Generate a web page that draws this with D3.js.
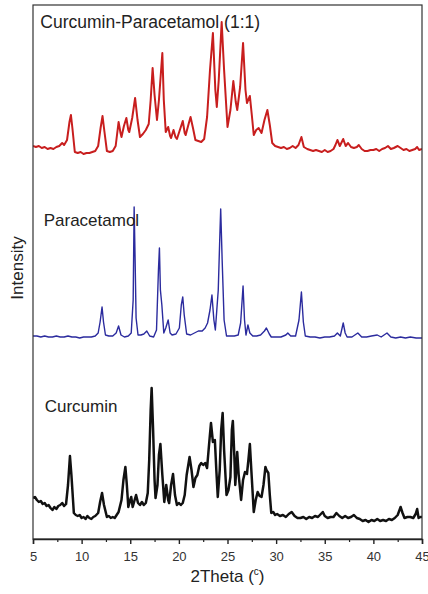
<!DOCTYPE html>
<html><head><meta charset="utf-8">
<script src="https://cdn.jsdelivr.net/npm/d3@7"></script>
<style>
html,body{margin:0;padding:0;background:#fff;}
svg{display:block;font-family:"Liberation Sans",Arial,sans-serif;}
</style></head>
<body><svg id="chart" width="428" height="594"></svg>
<script>
// 2Theta (deg), intensity (a.u., stacked patterns)
const coCrystal = [[5.0,393],[5.3,392],[5.6,393],[5.9,391],[6.2,392],[6.5,390],[6.8,391],[7.1,390],[7.4,392],[7.7,393],[8.0,396],[8.2,394],[8.5,399],[8.75,417],[8.9,424],[9.05,411],[9.3,387],[9.6,386],[9.9,387],[10.2,385],[10.5,386],[10.8,386],[11.1,387],[11.4,388],[11.7,393],[11.95,411],[12.15,423],[12.35,407],[12.6,388],[12.9,387],[13.2,388],[13.5,393],[13.8,417],[14.0,406],[14.1,402],[14.35,413],[14.6,421],[14.8,409],[14.9,407],[15.2,421],[15.5,441],[15.75,419],[16.0,402],[16.3,405],[16.6,409],[16.9,415],[17.1,439],[17.3,471],[17.5,444],[17.75,419],[17.95,439],[18.3,486],[18.45,439],[18.65,407],[18.9,412],[19.1,403],[19.2,401],[19.45,409],[19.65,402],[19.8,400],[20.1,409],[20.4,418],[20.6,406],[20.7,404],[21.0,415],[21.2,422],[21.45,411],[21.7,399],[22.0,398],[22.3,397],[22.6,400],[22.9,422],[23.2,469],[23.5,506],[23.75,449],[23.9,432],[24.1,459],[24.4,517],[24.65,469],[25.0,412],[25.3,429],[25.6,458],[25.85,437],[26.0,429],[26.3,452],[26.6,496],[26.85,449],[27.0,436],[27.3,443],[27.5,424],[27.7,404],[27.95,409],[28.2,411],[28.5,406],[28.8,419],[29.1,429],[29.35,414],[29.6,396],[29.9,393],[30.2,392],[30.5,391],[30.8,392],[31.1,390],[31.4,391],[31.7,393],[32.0,391],[32.3,394],[32.6,402],[32.85,392],[33.2,390],[33.5,389],[33.8,388],[34.1,389],[34.4,388],[34.7,387],[35.0,389],[35.3,387],[35.6,388],[35.9,390],[36.1,394],[36.3,399],[36.55,393],[36.9,400],[37.15,393],[37.4,396],[37.7,392],[38.0,391],[38.3,392],[38.5,394],[38.8,390],[39.1,388],[39.4,388],[39.7,389],[40.0,389],[40.3,390],[40.6,388],[40.9,390],[41.2,391],[41.5,393],[41.8,390],[42.1,391],[42.5,393],[42.8,391],[43.1,389],[43.4,390],[43.7,388],[44.0,389],[44.3,390],[44.5,392],[44.7,389],[45.0,390]];

const paracetamol = [[5.0,203],[5.4,203],[5.8,202],[6.2,203],[6.6,202],[7.0,202],[7.4,203],[7.8,202],[8.2,202],[8.6,203],[9.0,202],[9.4,202],[9.8,201],[10.2,202],[10.6,202],[11.0,202],[11.4,203],[11.7,206],[11.9,217],[12.1,232],[12.25,217],[12.45,204],[12.8,203],[13.2,203],[13.55,206],[13.8,213],[14.05,204],[14.4,202],[14.8,203],[15.1,206],[15.3,239],[15.4,332],[15.5,279],[15.6,221],[15.8,204],[16.1,204],[16.4,205],[16.7,208],[17.0,203],[17.4,202],[17.7,209],[17.9,269],[18.0,291],[18.1,249],[18.25,234],[18.45,206],[18.65,211],[18.9,219],[19.1,206],[19.3,204],[19.7,205],[20.05,211],[20.25,234],[20.4,242],[20.55,224],[20.8,205],[21.2,204],[21.6,206],[22.0,208],[22.4,208],[22.7,211],[22.95,216],[23.2,229],[23.4,244],[23.6,219],[23.75,209],[23.9,229],[24.05,249],[24.2,299],[24.3,330],[24.45,279],[24.65,219],[24.9,203],[25.3,203],[25.7,203],[26.1,204],[26.35,216],[26.6,253],[26.75,219],[26.9,204],[27.1,214],[27.3,206],[27.6,203],[28.0,203],[28.4,204],[28.8,208],[29.0,211],[29.3,205],[29.5,202],[30.0,202],[30.5,202],[31.0,204],[31.2,206],[31.5,203],[32.0,203],[32.35,219],[32.6,247],[32.8,217],[33.0,203],[33.5,202],[34.0,202],[34.5,201],[35.0,202],[35.5,202],[36.0,203],[36.3,206],[36.6,203],[36.9,216],[37.1,206],[37.3,202],[37.8,202],[38.4,206],[38.8,202],[39.3,202],[39.8,203],[40.4,204],[40.8,202],[41.4,206],[41.8,202],[42.3,201],[42.8,202],[43.3,201],[43.8,202],[44.4,201],[45.0,201]];

const curcumin = [[5.0,41],[5.2,42],[5.4,39],[5.6,37],[5.8,38],[6.0,35],[6.2,36],[6.4,33],[6.6,34],[6.8,31],[7.0,29],[7.2,32],[7.4,30],[7.6,33],[7.8,34],[8.0,36],[8.2,33],[8.4,35],[8.6,54],[8.8,83],[8.95,64],[9.2,26],[9.4,24],[9.6,23],[9.8,24],[10.0,21],[10.2,22],[10.4,20],[10.6,23],[10.8,21],[11.0,20],[11.2,22],[11.4,23],[11.7,26],[11.9,37],[12.1,46],[12.3,34],[12.6,22],[12.8,23],[13.0,21],[13.2,22],[13.4,21],[13.6,24],[13.8,27],[14.1,39],[14.3,59],[14.5,72],[14.65,54],[14.8,32],[15.0,39],[15.1,42],[15.25,32],[15.45,39],[15.6,44],[15.8,36],[16.0,34],[16.2,37],[16.4,34],[16.6,36],[16.8,46],[16.95,79],[17.1,129],[17.2,151],[17.35,109],[17.5,59],[17.6,41],[17.8,54],[17.95,84],[18.1,95],[18.3,64],[18.5,37],[18.7,54],[18.9,39],[19.0,36],[19.2,54],[19.4,65],[19.6,44],[19.8,34],[20.0,36],[20.2,34],[20.4,36],[20.6,44],[20.8,64],[21.1,82],[21.3,69],[21.5,52],[21.7,61],[21.9,64],[22.1,73],[22.3,76],[22.5,74],[22.7,76],[22.9,71],[23.1,94],[23.3,116],[23.5,97],[23.7,99],[23.85,69],[24.0,42],[24.2,69],[24.35,109],[24.5,126],[24.65,89],[24.9,44],[25.1,49],[25.3,62],[25.45,109],[25.55,118],[25.7,84],[25.8,54],[25.9,69],[26.0,87],[26.15,64],[26.4,39],[26.6,59],[26.8,67],[27.0,65],[27.15,79],[27.3,95],[27.45,69],[27.7,27],[27.9,39],[28.1,47],[28.3,43],[28.5,42],[28.7,54],[28.9,72],[29.0,69],[29.2,66],[29.35,44],[29.5,26],[29.7,27],[29.9,24],[30.1,25],[30.4,23],[30.7,24],[31.0,22],[31.3,25],[31.6,27],[31.9,23],[32.2,21],[32.5,21],[32.8,22],[33.1,20],[33.4,22],[33.7,21],[34.0,23],[34.3,22],[34.6,25],[34.8,27],[35.0,23],[35.3,21],[35.6,22],[35.9,22],[36.2,26],[36.5,23],[36.8,21],[37.1,23],[37.4,21],[37.7,22],[38.0,24],[38.3,21],[38.6,20],[38.9,18],[39.2,19],[39.5,17],[39.8,19],[40.1,18],[40.4,20],[40.7,18],[41.0,19],[41.3,18],[41.6,20],[41.9,19],[42.2,21],[42.5,24],[42.8,32],[43.0,26],[43.2,21],[43.5,22],[43.8,22],[44.1,21],[44.35,25],[44.5,30],[44.65,21],[44.85,22],[45.0,22]];

const seriesNames = ["Curcumin-Paracetamol (1:1)", "Paracetamol", "Curcumin"];
const seriesColors = ["#c81e1e", "#2b2b9e", "#111111"];
const labelLevels = [511, 313, 127];  // intensity level of each label baseline
const xTicks = [5, 10, 15, 20, 25, 30, 35, 40, 45];
const xMinorTicks = [7.5, 12.5, 17.5, 22.5, 27.5, 32.5, 37.5, 42.5];
const xDomain = [5, 45];
const yDomain = [0, 534];

const svg = d3.select("#chart");
const m = {left: 33, right: 6, top: 5, bottom: 55};
const W = 428, H = 594;
const x = d3.scaleLinear().domain(xDomain).range([m.left, W - m.right]);
const y = d3.scaleLinear().domain(yDomain).range([H - m.bottom, m.top]);

const datasets = [coCrystal, paracetamol, curcumin];
const widths = [2.0, 1.4, 2.5];
const line = d3.line().x(d => x(d[0])).y(d => y(d[1]));

svg.append("defs").append("clipPath").attr("id","clip")
  .append("rect").attr("x", m.left).attr("y", m.top)
  .attr("width", W - m.left - m.right).attr("height", H - m.top - m.bottom);

const g = svg.append("g").attr("clip-path","url(#clip)");
datasets.forEach((ds, i) => {
  g.append("path").datum(ds)
    .attr("fill","none").attr("stroke", seriesColors[i])
    .attr("stroke-width", widths[i]).attr("stroke-linejoin","round")
    .attr("d", line);
});

// labels
const labelX = [5.75, 6.1, 6.2];
const labelSize = [17.5, 17, 17];
seriesNames.forEach((n, i) => {
  svg.append("text").attr("x", x(labelX[i])).attr("y", y(labelLevels[i]))
    .attr("font-size", labelSize[i]).attr("fill", "#222").text(n);
});

// frame
svg.append("rect").attr("x", m.left).attr("y", m.top)
  .attr("width", W - m.left - m.right).attr("height", H - m.top - m.bottom)
  .attr("fill","none").attr("stroke","#333").attr("stroke-width",1.2);

// x axis
const axis = svg.append("g").attr("transform", `translate(0,${H - m.bottom})`)
  .call(d3.axisBottom(x).tickValues(xTicks).tickSize(5).tickPadding(8).tickFormat(d3.format("d")));
axis.select(".domain").attr("stroke","#222").attr("stroke-width",1.4);
axis.selectAll(".tick line").attr("stroke","#222").attr("stroke-width",1.4);
axis.selectAll(".tick text").attr("font-size",13).attr("fill","#333")
  .attr("font-family","'Liberation Sans',Arial,sans-serif");
const minor = svg.append("g").attr("transform", `translate(0,${H - m.bottom})`)
  .call(d3.axisBottom(x).tickValues(xMinorTicks).tickSize(3).tickFormat(""));
minor.select(".domain").remove();
minor.selectAll(".tick line").attr("stroke","#222").attr("stroke-width",1.2);

// axis titles
const xt = svg.append("text").attr("x", (m.left + W - m.right)/2).attr("y", 582)
  .attr("text-anchor","middle").attr("font-size",17).attr("fill","#222");
xt.append("tspan").text("2Theta (");
xt.append("tspan").attr("font-size",10).attr("dy",-7).text("c");
xt.append("tspan").attr("dy",7).text(")");

svg.append("text").attr("transform", `translate(23,${(m.top + H - m.bottom)/2 - 4}) rotate(-90)`)
  .attr("text-anchor","middle").attr("font-size",17).attr("fill","#222").text("Intensity");
</script></body></html>
